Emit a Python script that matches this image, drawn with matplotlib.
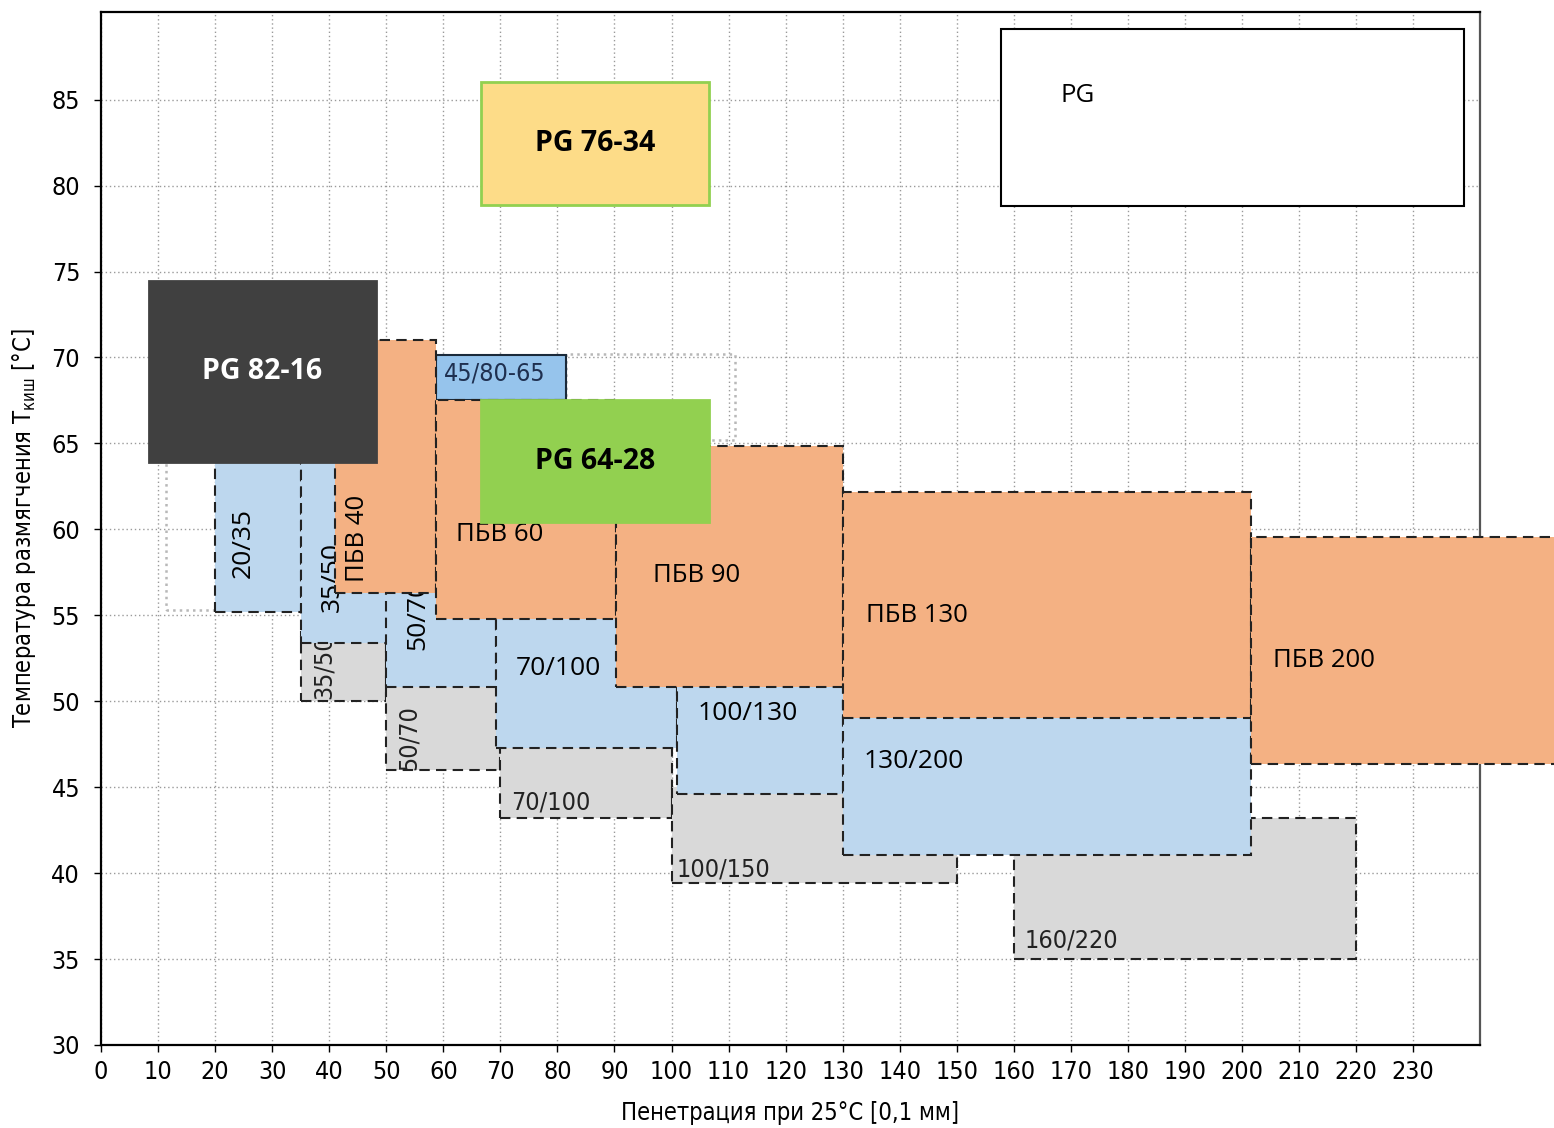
"""Диаграмма классов вяжущих: пенетрация при 25°C против температуры размягчения."""

import matplotlib
matplotlib.use("Agg")
import matplotlib.pyplot as plt
from matplotlib.patches import Rectangle

NARROW = ["DejaVu Sans"]
LABEL = ["Open Sans", "DejaVu Sans"]
COND = dict(family=NARROW, fontstretch="condensed")

# серые прямоугольники (битумы)
grey_labels = ["35/50", "50/70", "70/100", "100/150", "160/220"]
grey_x0 = [35, 50, 70, 100, 160]
grey_x1 = [50, 70, 100, 150, 220]
grey_y0 = [50.0, 46.0, 43.2, 39.4, 35.0]
grey_y1 = [54.0, 51.0, 48.0, 45.0, 43.2]
grey_tx = [39.1, 54.0, 71.8, 100.9, 161.8]
grey_ty = [52.0, 47.9, 44.1, 40.2, 36.1]
grey_rot = [90, 90, 0, 0, 0]

# голубые прямоугольники
blue_labels = ["20/35", "35/50", "50/70", "70/100", "100/130", "130/200"]
blue_x0 = [20, 35, 50, 69.2, 100.9, 130.1]
blue_x1 = [35, 50.5, 69.2, 100.9, 130.1, 201.6]
blue_y0 = [55.2, 53.4, 50.8, 47.3, 44.6, 41.06]
blue_y1 = [65.0, 64.0, 60.0, 56.0, 52.0, 50.0]
blue_tx = [25.0, 40.6, 55.5, 72.7, 104.6, 133.6]
blue_ty = [59.2, 57.2, 55.0, 51.9, 49.3, 46.5]
blue_rot = [90, 90, 90, 0, 0, 0]

# оранжевые прямоугольники (ПБВ)
pbv_labels = ["ПБВ 40", "ПБВ 60", "ПБВ 90", "ПБВ 130", "ПБВ 200"]
pbv_x0 = [41.0, 58.7, 90.2, 130.1, 201.6]
pbv_x1 = [58.7, 90.2, 130.1, 201.6, 256.0]
pbv_y0 = [56.3, 54.8, 50.8, 49.0, 46.36]
pbv_y1 = [71.0, 67.5, 64.87, 62.2, 59.57]
pbv_tx = [45.0, 62.2, 96.7, 134.0, 205.5]
pbv_ty = [59.45, 59.7, 57.3, 55.0, 52.35]
pbv_rot = [90, 0, 0, 0, 0]

# 45/80-65
pmb_label = "45/80-65"
pmb_box = [58.7, 81.5, 67.5, 70.16]

# PG
pg_labels = ["PG 82-16", "PG 76-34", "PG 64-28"]
pg_x0 = [8.4, 66.6, 66.6]
pg_x1 = [48.2, 106.5, 106.5]
pg_y0 = [63.93, 78.9, 60.4]
pg_y1 = [74.47, 86.0, 67.5]
pg_face = ["#404040", "#fddc88", "#92d050"]
pg_edge = ["#404040", "#92d050", "#92d050"]
pg_text = ["white", "black", "black"]

legend_box = [157.8, 238.9, 78.8, 89.1]

# бледные контуры старых областей
faint_x0 = [11.4, 81.5]
faint_x1 = [35.0, 111.2]
faint_y0 = [55.3, 65.2]
faint_y1 = [65.2, 70.2]

fig = plt.figure(figsize=(15.54, 11.28), dpi=100)
ax = fig.add_axes([101 / 1554, 83 / 1128, (1480 - 101) / 1554, (1045 - 12) / 1128])
ax.set_xlim(0, 241.7)
ax.set_ylim(30, 90.1)
ax.set_xticks(range(0, 240, 10))
ax.set_yticks(range(30, 90, 5))
ax.grid(True, color="#9a9a9a", linestyle=(0, (1, 2)), linewidth=1.0)
ax.set_axisbelow(True)
for lab in ax.get_xticklabels() + ax.get_yticklabels():
    lab.set_family(NARROW)
    lab.set_stretch("condensed")
    lab.set_fontsize(18)
ax.tick_params(axis="x", length=5, width=1, pad=6)
ax.tick_params(axis="y", length=5, width=1, pad=10)
for side in ["left", "bottom", "top"]:
    ax.spines[side].set_linewidth(1.6)
ax.spines["right"].set_linewidth(1.6)
ax.spines["right"].set_color("#555555")

dash = (0, (5, 3))


def box(x0, x1, y0, y1, z, **kw):
    ax.add_patch(Rectangle((x0, y0), x1 - x0, y1 - y0, zorder=z, clip_on=False, **kw))


for a, b, c, d in zip(faint_x0, faint_x1, faint_y0, faint_y1):
    box(a, b, c, d, 1.5, fill=False, edgecolor="#b8b8b8", linestyle=":", linewidth=1.8)

for i, t in enumerate(grey_labels):
    box(grey_x0[i], grey_x1[i], grey_y0[i], grey_y1[i], 2,
        facecolor="#d9d9d9", edgecolor="#222222", linestyle=dash, linewidth=1.5)
    ax.text(grey_tx[i], grey_ty[i], t, rotation=grey_rot[i], **COND,
            fontsize=18, color="#222222", ha="left" if not grey_rot[i] else "center",
            va="center", zorder=3)

for i, t in enumerate(blue_labels):
    box(blue_x0[i], blue_x1[i], blue_y0[i], blue_y1[i], 4,
        facecolor="#bdd7ee", edgecolor="#222222", linestyle=dash, linewidth=1.5)
    ax.text(blue_tx[i], blue_ty[i], t, rotation=blue_rot[i], family=LABEL,
            fontsize=19, color="black", ha="left" if not blue_rot[i] else "center",
            va="center", zorder=5)

box(*pmb_box, 4, facecolor="#96c4ec", edgecolor="#1b2a3a", linewidth=1.5)
ax.text(60.1, 69.06, pmb_label, **COND, fontsize=18, color="#1f3050",
        ha="left", va="center", zorder=5)

for i, t in enumerate(pbv_labels):
    box(pbv_x0[i], pbv_x1[i], pbv_y0[i], pbv_y1[i], 6,
        facecolor="#f4b183", edgecolor="#222222", linestyle=dash, linewidth=1.5)
    ax.text(pbv_tx[i], pbv_ty[i], t, rotation=pbv_rot[i], family=LABEL,
            fontsize=18.5, color="black", ha="left" if not pbv_rot[i] else "center",
            va="center", zorder=7)

for i, t in enumerate(pg_labels):
    box(pg_x0[i], pg_x1[i], pg_y0[i], pg_y1[i], 8,
        facecolor=pg_face[i], edgecolor=pg_edge[i], linewidth=2)
    ax.text((pg_x0[i] + pg_x1[i]) / 2, (pg_y0[i] + pg_y1[i]) / 2, t, family=LABEL,
            fontsize=20.5, fontweight="bold", color=pg_text[i], ha="center",
            va="center", zorder=9)

box(legend_box[0], legend_box[1], legend_box[2], legend_box[3], 8,
    facecolor="white", edgecolor="black", linewidth=1.5)
ax.text(168.2, 85.24, "PG", family=LABEL, fontsize=18.5, ha="left", va="center", zorder=9)

ax.set_xlabel("Пенетрация при 25°С [0,1 мм]", **COND, fontsize=17, labelpad=12)
ax.set_ylabel(r"Температура размягчения T$_{\mathregular{киш}}$ [°С]", **COND,
              fontsize=17, labelpad=10)

fig.savefig("out.png", dpi=100)
